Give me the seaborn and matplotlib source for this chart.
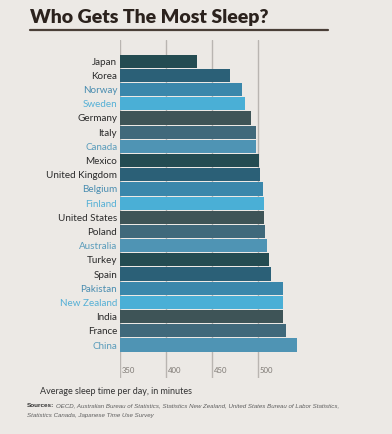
import matplotlib
matplotlib.use("Agg")
import matplotlib.pyplot as plt
import matplotlib.transforms as mtransforms
import seaborn as sns
import pandas as pd

countries = ["Japan", "Korea", "Norway", "Sweden", "Germany", "Italy", "Canada",
             "Mexico", "United Kingdom", "Belgium", "Finland", "United States",
             "Poland", "Australia", "Turkey", "Spain", "Pakistan", "New Zealand",
             "India", "France", "China"]
minutes = [434, 470, 483, 486, 492, 498, 498, 501, 502, 505, 506, 506, 508,
           510, 512, 514, 527, 527, 527, 530, 542]
xticks = [350, 400, 450, 500]

DT, MB, BL, LB = "#244c52", "#2b6077", "#3a87ab", "#4aafd6"
GR, SL, CB = "#3e5457", "#40697b", "#4f94b4"
bar_colors = [DT, MB, BL, LB, GR, SL, CB,
              DT, MB, BL, LB, GR, SL, CB,
              DT, MB, BL, LB, GR, SL, CB]
light = {BL: "#4a8db0", LB: "#55b0d6", CB: "#5a9cbb"}

df = pd.DataFrame({"country": countries, "minutes": minutes})

sns.set_style("white")
bg = "#ece9e5"
fig = plt.figure(figsize=(3.92, 4.34), dpi=100, facecolor=bg)
W, H = 392, 434
ax_left, ax_right, ax_top, ax_bot = 120, 320, 40, 378
ax = fig.add_axes([ax_left / W, 1 - ax_bot / H, (ax_right - ax_left) / W, (ax_bot - ax_top) / H])
ax.set_facecolor(bg)

pal = {c: col for c, col in zip(countries, bar_colors)}
sns.barplot(data=df, x="minutes", y="country", hue="country", palette=pal,
            legend=False, width=0.93, orient="h", ax=ax, saturation=1,
            linewidth=0, zorder=3)

px_per_min = 0.92
ax.set_xlim(350, 350 + (ax_right - ax_left) / px_per_min)
ax.set_ylim(22.32, -1.49)
for s in ax.spines.values():
    s.set_visible(False)
ax.set_xlabel("")
ax.set_ylabel("")
ax.set_xticks([])
for v in xticks:
    ax.axvline(v, color="#b9b5b1", lw=1.0, zorder=1)
trans = mtransforms.blended_transform_factory(ax.transData, ax.transAxes)
for v in xticks:
    ax.text(v + 1.8, 0.022, str(v), transform=trans, ha="left", va="center",
            fontsize=5.6, color="#7d7873", family=["Lato", "DejaVu Sans"])

ax.tick_params(axis="y", length=0, pad=2)
for lbl, col in zip(ax.get_yticklabels(), bar_colors):
    lbl.set_fontsize(7.1)
    lbl.set_family(["Lato", "DejaVu Sans"])
    lbl.set_color(light.get(col, "#2a2a2a"))

renderer = fig.canvas.get_renderer()


def fit(t, target_px):
    for _ in range(3):
        w = t.get_window_extent(renderer).width
        t.set_fontsize(t.get_fontsize() * target_px / w)


# title
title = fig.text(30 / W, 1 - 17 / H, "Who Gets The Most Sleep?", ha="left", va="center",
                 fontsize=16, fontweight="heavy", color="#2b221d",
                 family=["Lato", "DejaVu Sans"])
fit(title, 238)
fig.add_artist(plt.Line2D([30 / W, 328 / W], [1 - 29.5 / H, 1 - 29.5 / H],
                          color="#4a3f38", lw=1.6, transform=fig.transFigure))

sub = fig.text(40 / W, 1 - 392 / H, "Average sleep time per day, in minutes", ha="left",
               va="center", fontsize=7.6, color="#333333", family=["Lato", "DejaVu Sans"])
fit(sub, 153)

src_font = ["Liberation Sans", "DejaVu Sans"]
t1 = fig.text(27 / W, 1 - 405.5 / H, "Sources:", ha="left", va="center",
              fontsize=4.6, fontweight="bold", color="#333333", family=src_font)
bb = t1.get_window_extent(renderer)
t2 = fig.text((bb.x1 + 2) / W, 1 - 405.5 / H,
              "OECD, Australian Bureau of Statistics, Statistics New Zealand, United States Bureau of Labor Statistics,",
              ha="left", va="center", fontsize=4.6, style="italic", color="#5e5e5e", family=src_font)
fit(t2, 338 - (bb.x1 + 2))
fig.text(27 / W, 1 - 415.5 / H, "Statistics Canada, Japanese Time Use Survey", ha="left",
         va="center", fontsize=t2.get_fontsize(), style="italic", color="#5e5e5e", family=src_font)

fig.savefig("out.png", dpi=100, facecolor=bg)
